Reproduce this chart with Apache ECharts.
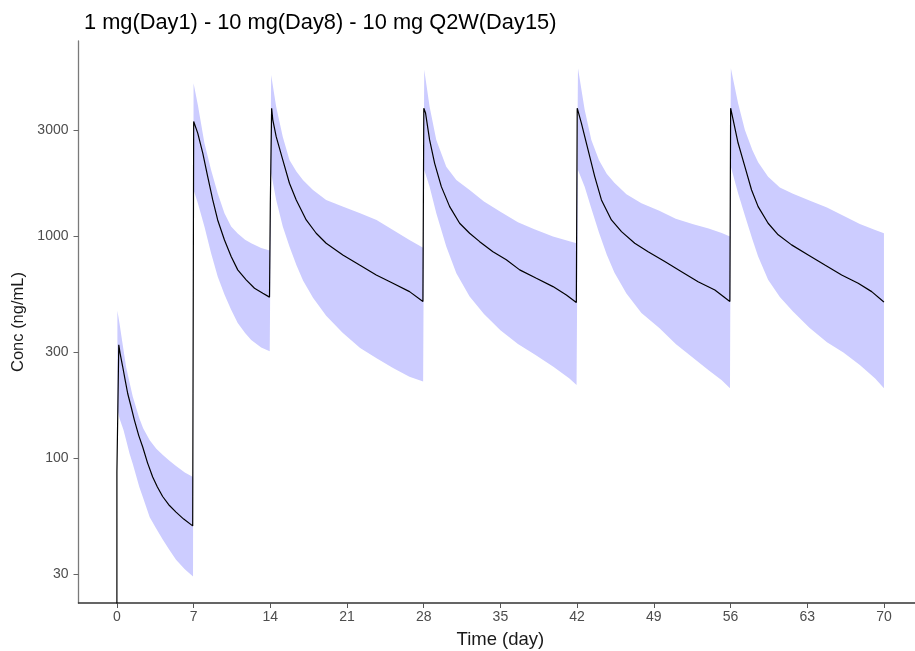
<!DOCTYPE html>
<html>
<head>
<meta charset="utf-8">
<script src="https://cdn.jsdelivr.net/npm/echarts@6/dist/echarts.min.js"></script>
<style>html,body{margin:0;padding:0;background:#fff}#c{width:915px;height:651px}</style>
</head>
<body>
<div id="c"></div>
<script>
// ---- Data ----
const titleText = '1 mg(Day1) - 10 mg(Day8) - 10 mg Q2W(Day15)';
const xTicks = [0, 7, 14, 21, 28, 35, 42, 49, 56, 63, 70];
const yTicks = [30, 100, 300, 1000, 3000];

// Median concentration profile
const medTime = [
  0, 0.005, 0.17, 0.175, 0.3, 0.53, 0.75, 0.99, 1.3, 1.6, 2.0, 2.36, 2.8, 3.27, 3.7, 4.18, 4.8, 5.4, 6.1, 6.92, 7.0,
  7.01, 7.38, 7.84, 8.29, 8.75, 9.2, 9.82, 10.43, 11.03, 11.8, 12.56, 13.32, 13.93, 14.0,
  14.005, 14.12, 14.125, 14.23, 14.54, 15.14, 15.75, 16.37, 17.28, 18.19, 19.1, 20.62, 22.15, 23.67, 25.19, 26.71, 27.93, 28.0,
  28.01, 28.17, 28.54, 29.0, 29.61, 30.37, 31.28, 32.19, 33.11, 34.32, 35.54, 36.76, 38.28, 39.8, 41.02, 41.93, 42.0,
  42.01, 42.39, 43.0, 43.61, 44.22, 45.13, 46.05, 47.26, 48.48, 50.0, 51.53, 53.04, 54.57, 55.94, 56.0,
  56.01, 56.24, 56.69, 57.31, 57.92, 58.52, 59.43, 60.35, 61.57, 63.09, 64.61, 66.14, 67.65, 68.88, 69.94, 70.0
];
const medConc = [
  0.001, 86, 86, 323, 295, 258, 225, 195, 170, 148, 126, 112, 95, 82, 74, 67, 61, 57, 53, 49.4, 49,
  3275, 2904, 2360, 1850, 1452, 1180, 959, 807, 703, 634, 581, 552, 530, 527,
  1400, 1400, 3760, 3335, 2800, 2200, 1726, 1452, 1180, 1028, 927, 821, 739, 667, 612, 561, 506, 504,
  3760, 3575, 2705, 2123, 1667, 1355, 1140, 1028, 942, 849, 780, 703, 644, 591, 542, 501, 500,
  3760, 3222, 2440, 1850, 1452, 1180, 1045, 927, 849, 766, 690, 622, 571, 506, 504,
  3760, 3335, 2620, 2051, 1610, 1355, 1140, 1011, 911, 821, 739, 667, 612, 561, 506, 503
];

// Prediction interval band
const bandTime = [
  0.05, 0.25, 0.6, 0.85, 1.15, 1.45, 2.05, 2.4, 3.0, 3.6, 4.2, 4.8, 5.4, 6.2, 6.95,
  7.0, 7.4, 7.99, 8.6, 9.2, 9.82, 10.43, 11.03, 11.7, 12.26, 13.17, 13.95,
  14.08, 14.54, 15.14, 15.75, 16.4, 17.0, 17.9, 19.1, 20.6, 22.2, 23.7, 25.2, 26.7, 27.95,
  28.05, 28.54, 29.15, 30.06, 30.98, 32.19, 33.5, 35.0, 36.6, 38.1, 39.8, 41.3, 41.95,
  42.08, 42.69, 43.3, 44.0, 44.7, 45.4, 46.5, 47.87, 49.5, 51.0, 52.6, 54.0, 55.2, 55.95,
  56.03, 56.69, 57.31, 58.0, 58.52, 59.43, 60.5, 61.7, 63.2, 64.8, 66.3, 67.8, 69.2, 70.0
];
const bandHigh = [
  460, 401, 308, 256, 220, 189, 151, 136, 120, 110, 103, 97, 92, 86, 82,
  4875, 3865, 2620, 1983, 1556, 1265, 1101, 1025, 960, 927, 881, 860,
  5310, 3818, 2800, 2200, 1945, 1783, 1610, 1452, 1355, 1265, 1180, 1064, 959, 885,
  5600, 3818, 2705, 2051, 1786, 1610, 1429, 1285, 1152, 1072, 993, 946, 927,
  5690, 3700, 2705, 2193, 1905, 1734, 1540, 1403, 1298, 1194, 1127, 1081, 1031, 993,
  5690, 3960, 3000, 2432, 2148, 1848, 1650, 1548, 1445, 1343, 1233, 1132, 1062, 1028
];
const bandLow = [
  165, 150, 134, 120, 105, 94, 74, 66, 54, 48, 42.8, 38.5, 34.8, 31.5, 29.2,
  1610, 1400, 1101, 836, 656, 545, 465, 405, 365, 340, 314, 302,
  1915, 1452, 1101, 895, 736, 628, 527, 437, 366, 313, 281, 254, 232, 221,
  1983, 1667, 1265, 895, 679, 533, 445, 376, 326, 293, 258, 228, 213,
  1983, 1667, 1327, 1033, 824, 685, 550, 449, 385, 326, 282, 248, 224, 206,
  2051, 1556, 1236, 964, 807, 634, 530, 457, 386, 332, 298, 262, 228, 206
];

// ---- Chart ----
const chart = echarts.init(document.getElementById('c'), null, {renderer: 'canvas'});
const medData = medTime.map((t, i) => [t, medConc[i]]);
const bandData = bandTime.map((t, i) => [t, bandLow[i], bandHigh[i]]);
const txt = '#4d4d4d';
const font = 'Liberation Sans, Arial, sans-serif';

function renderBand(params, api) {
  if (params.dataIndex !== 0) return null;
  const upper = [], lower = [];
  for (let i = 0; i < bandData.length; i++) {
    upper.push(api.coord([bandData[i][0], bandData[i][2]]));
    lower.push(api.coord([bandData[i][0], bandData[i][1]]));
  }
  const pts = upper.concat(lower.reverse());
  return {
    type: 'polygon',
    shape: {points: pts},
    style: {fill: '#ccccff', stroke: null},
    silent: true
  };
}

chart.setOption({
  animation: false,
  textStyle: {fontFamily: font},
  title: {
    text: titleText, left: 79, top: 7,
    textStyle: {fontSize: 21.8, fontWeight: 'normal', color: '#000', fontFamily: font}
  },
  grid: {left: 78.5, top: 41, width: 843.8, height: 562, containLabel: false, outerBoundsMode: 'none'},
  xAxis: {
    type: 'value', min: -3.5, max: 73.5,
    name: 'Time (day)', nameLocation: 'middle', nameGap: 27,
    nameTextStyle: {fontSize: 18.5, color: '#1a1a1a', fontFamily: font},
    axisLine: {show: true, onZero: false, lineStyle: {color: '#333', width: 1.5}},
    axisTick: {show: true, length: 5, customValues: xTicks, lineStyle: {color: '#555', width: 1}},
    axisLabel: {customValues: xTicks, color: txt, fontSize: 14, margin: 7, fontFamily: font},
    splitLine: {show: false}
  },
  yAxis: {
    type: 'log', logBase: 10, min: 22.2, max: 7550,
    name: 'Conc (ng/mL)', nameLocation: 'middle', nameGap: 46,
    nameTextStyle: {fontSize: 16.5, color: '#1a1a1a', fontFamily: font},
    axisLine: {show: true, onZero: false, lineStyle: {color: '#7a7a7a', width: 1.3}},
    axisTick: {show: true, length: 5, customValues: yTicks, lineStyle: {color: '#666', width: 1}},
    axisLabel: {customValues: yTicks, color: txt, fontSize: 14, margin: 10, fontFamily: font,
      formatter: v => String(Math.round(v))},
    splitLine: {show: false}
  },
  series: [
    {type: 'custom', name: 'band', data: bandData, renderItem: renderBand,
     encode: {x: 0, y: [1, 2]}, clip: true, silent: true, z: 1},
    {type: 'line', name: 'median', data: medData, showSymbol: false, symbol: 'none', clip: true,
     lineStyle: {color: '#000', width: 1.2}, z: 3}
  ]
});
</script>
</body>
</html>
